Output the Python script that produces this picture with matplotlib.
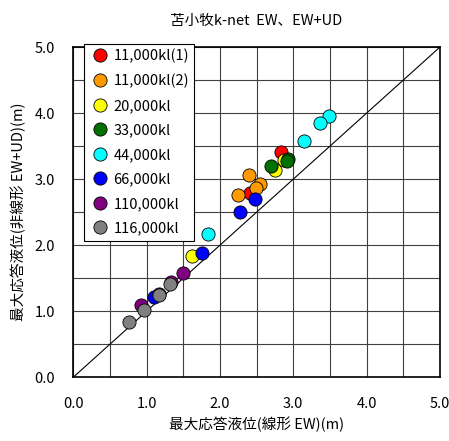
import numpy as np
import matplotlib
matplotlib.use('Agg')
import matplotlib.pyplot as plt

plt.rcParams['font.family'] = ['Noto Sans CJK JP', 'DejaVu Sans']

# データ (線形 EW, 非線形 EW+UD)
labels = ['11,000kl(1)', '11,000kl(2)', '20,000kl', '33,000kl',
          '44,000kl', '66,000kl', '110,000kl', '116,000kl']
colors = ['#ff0000', '#ff9900', '#ffff00', '#007000',
          '#00ffff', '#0000ff', '#800080', '#808080']

x_11a = [2.83, 2.41]
y_11a = [3.41, 2.79]
x_11b = [2.39, 2.55, 2.49, 2.25]
y_11b = [3.07, 2.92, 2.87, 2.76]
x_20 = [2.87, 2.75, 1.62]
y_20 = [3.29, 3.14, 1.83]
x_33 = [2.93, 2.91, 2.70]
y_33 = [3.30, 3.28, 3.20]
x_44 = [3.49, 3.36, 3.14, 1.84]
y_44 = [3.96, 3.85, 3.57, 2.17]
x_66 = [2.48, 2.28, 1.75, 1.10]
y_66 = [2.70, 2.51, 1.88, 1.22]
x_110 = [1.49, 1.34, 1.17, 0.92]
y_110 = [1.58, 1.45, 1.26, 1.10]
x_116 = [1.32, 1.17, 0.97, 0.76]
y_116 = [1.41, 1.25, 1.02, 0.84]

xs = [x_11a, x_11b, x_20, x_33, x_44, x_66, x_110, x_116]
ys = [y_11a, y_11b, y_20, y_33, y_44, y_66, y_110, y_116]

fig = plt.figure(figsize=(4.49, 4.41), dpi=100)
ax = fig.add_axes([0.163, 0.1444, 0.817, 0.749])

ax.plot([0, 5], [0, 5], color='black', lw=0.8, zorder=2)

for x, y, c, lab in zip(xs, ys, colors, labels):
    ax.plot(x, y, 'o', ms=9.5, mfc=c, mec='black', mew=0.6,
            ls='none', label=lab, zorder=3)

ax.set_xlim(0, 5)
ax.set_ylim(0, 5)
ax.set_xticks(np.arange(0, 5.01, 1.0))
ax.set_yticks(np.arange(0, 5.01, 1.0))
ax.set_xticks(np.arange(0, 5.01, 0.5), minor=True)
ax.set_yticks(np.arange(0, 5.01, 0.5), minor=True)
ax.set_xticklabels(['%.1f' % v for v in np.arange(0, 5.01, 1.0)])
ax.set_yticklabels(['%.1f' % v for v in np.arange(0, 5.01, 1.0)])
ax.grid(which='both', color='#404040', lw=0.8, zorder=0)
ax.tick_params(which='both', length=0, labelsize=10.5)
ax.tick_params(axis='x', pad=14)
ax.tick_params(axis='y', pad=13)
for s in ax.spines.values():
    s.set_linewidth(1.2)

ax.set_xlabel('最大応答液位(線形 EW)(m)', fontsize=10.5, labelpad=4)
ax.set_ylabel('最大応答液位(非線形 EW+UD)(m)', fontsize=10.5, labelpad=6)
ax.set_title('苫小牧k-net  EW、EW+UD', fontsize=10.5, pad=16)

leg = ax.legend(loc='upper left', bbox_to_anchor=(0.03, 1.01), fontsize=10.5,
                frameon=True, fancybox=False, edgecolor='black',
                framealpha=1, borderpad=0.35, labelspacing=0.72,
                handletextpad=0.15, handlelength=1.5, borderaxespad=0)
leg.get_frame().set_linewidth(0.8)

fig.savefig('out.png', dpi=100)
